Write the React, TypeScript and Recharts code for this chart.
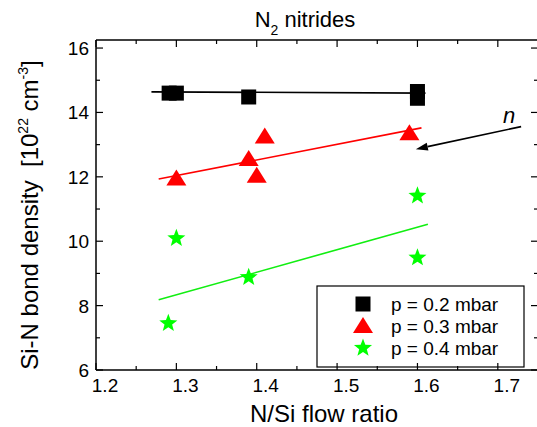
import React from "react";
import {
  ComposedChart,
  XAxis,
  YAxis,
  Scatter,
  Line,
  ReferenceLine,
  Customized
} from "recharts";

// measured points, N/Si flow ratio vs Si-N bond density
const lowP = [
  { x: 1.291, y: 14.6 },
  { x: 1.3, y: 14.6 },
  { x: 1.39, y: 14.48 },
  { x: 1.6, y: 14.65 },
  { x: 1.6, y: 14.44 }
];
const midP = [
  { x: 1.3, y: 11.95 },
  { x: 1.39, y: 12.55 },
  { x: 1.4, y: 12.03 },
  { x: 1.41, y: 13.25 },
  { x: 1.59, y: 13.35 }
];
const highP = [
  { x: 1.3, y: 10.09 },
  { x: 1.39, y: 8.88 },
  { x: 1.29, y: 7.45 },
  { x: 1.6, y: 11.41 },
  { x: 1.6, y: 9.49 }
];

// linear fits
const lowFit = [
  { x: 1.269, y: 14.64 },
  { x: 1.61, y: 14.6 }
];
const midFit = [
  { x: 1.278, y: 11.93 },
  { x: 1.605, y: 13.52 }
];
const highFit = [
  { x: 1.278, y: 8.18 },
  { x: 1.613, y: 10.53 }
];

const arrow = [
  { x: 1.729, y: 13.56 },
  { x: 1.598, y: 12.86 }
];

const xMajor = [1.2, 1.3, 1.4, 1.5, 1.6, 1.7];
const xMinor = [1.25, 1.35, 1.45, 1.55, 1.65, 1.75];
const yMajor = [6, 8, 10, 12, 14, 16];
const yMinor = [7, 9, 11, 13, 15];

const legendItems = ["p = 0.2 mbar", "p = 0.3 mbar", "p = 0.4 mbar"];

const FONT = "'Liberation Sans', Arial, sans-serif";
const GREEN = "#00ff00";
const RED = "#ff0000";
const MAJOR = 7;
const MINOR = 4;
const MARGIN = 6;

const xTicks = [...xMajor, ...xMinor].sort((a, b) => a - b);
const yTicks = [...yMajor, ...yMinor].sort((a, b) => a - b);

const isMajor = (list: number[], v: number) => list.some((m) => Math.abs(m - v) < 1e-6);

function BottomTick(props: any) {
  const { x, y, payload } = props;
  const ay = y - MARGIN;
  const major = isMajor(xMajor, payload.value);
  return (
    <g>
      <line x1={x} x2={x} y1={ay} y2={ay - (major ? MAJOR : MINOR)} stroke="#000" strokeWidth={1.2} />
      {major && (
        <text x={x + 9} y={ay + 22} textAnchor="middle" fontSize={19} fontFamily={FONT} fill="#000">
          {payload.value.toFixed(1)}
        </text>
      )}
    </g>
  );
}

function TopTick(props: any) {
  const { x, y, payload } = props;
  const ay = y + MARGIN;
  const major = isMajor(xMajor, payload.value);
  return <line x1={x} x2={x} y1={ay} y2={ay + (major ? MAJOR : MINOR)} stroke="#000" strokeWidth={1.2} />;
}

function LeftTick(props: any) {
  const { x, y, payload } = props;
  const ax = x + MARGIN;
  const major = isMajor(yMajor, payload.value);
  return (
    <g>
      <line x1={ax} x2={ax + (major ? MAJOR : MINOR)} y1={y} y2={y} stroke="#000" strokeWidth={1.2} />
      {major && (
        <text x={ax - 7} y={y + 7} textAnchor="end" fontSize={19} fontFamily={FONT} fill="#000">
          {payload.value}
        </text>
      )}
    </g>
  );
}

function RightTick(props: any) {
  const { x, y, payload } = props;
  const ax = x - MARGIN;
  const major = isMajor(yMajor, payload.value);
  return <line x1={ax} x2={ax - (major ? MAJOR : MINOR)} y1={y} y2={y} stroke="#000" strokeWidth={1.2} />;
}

function Square({ cx, cy }: any) {
  return <rect x={cx - 7.5} y={cy - 7.5} width={15} height={15} fill="#000" />;
}

function Triangle({ cx, cy }: any) {
  return <polygon points={`${cx},${cy - 9} ${cx - 10},${cy + 7} ${cx + 10},${cy + 7}`} fill={RED} />;
}

function starPath(cx: number, cy: number, ro: number, ri: number) {
  const pts: string[] = [];
  for (let i = 0; i < 10; i++) {
    const r = i % 2 === 0 ? ro : ri;
    const a = -Math.PI / 2 + (i * Math.PI) / 5;
    pts.push(`${cx + r * Math.cos(a)},${cy + r * Math.sin(a)}`);
  }
  return pts.join(" ");
}

function Star({ cx, cy }: any) {
  return <polygon points={starPath(cx, cy, 9.5, 4)} fill={GREEN} />;
}

function Arrow(props: any) {
  const { x1, y1, x2, y2 } = props;
  const dx = x2 - x1;
  const dy = y2 - y1;
  const len = Math.sqrt(dx * dx + dy * dy);
  const ux = dx / len;
  const uy = dy / len;
  const bx = x2 - ux * 12;
  const by = y2 - uy * 12;
  return (
    <g>
      <line x1={x1} y1={y1} x2={bx} y2={by} stroke="#000" strokeWidth={1.6} />
      <polygon
        points={`${x2},${y2} ${bx - uy * 4},${by + ux * 4} ${bx + uy * 4},${by - ux * 4}`}
        fill="#000"
      />
      <text x={x1 - 12} y={y1 - 4} textAnchor="middle" fontSize={22} fontStyle="italic" fontFamily={FONT}>
        n
      </text>
    </g>
  );
}

function Decorations() {
  const rows = [304, 326, 348];
  const marks = [
    <rect key="s" x={355.5} y={rows[0] - 7.5} width={15} height={15} fill="#000" />,
    <polygon key="t" points={`363,${rows[1] - 9} 353,${rows[1] + 7} 373,${rows[1] + 7}`} fill={RED} />,
    <polygon key="p" points={starPath(363, rows[2], 9.5, 4)} fill={GREEN} />
  ];
  return (
    <g fontFamily={FONT} fill="#000">
      <text x={305} y={27} textAnchor="middle" fontSize={22}>
        N<tspan dy={8} fontSize={14}>2</tspan>
        <tspan dy={-8}> nitrides</tspan>
      </text>
      <text x={324} y={422} textAnchor="middle" fontSize={24}>
        N/Si flow ratio
      </text>
      <text x={38} y={215} textAnchor="middle" fontSize={24} transform="rotate(-90 38 215)">
        {"Si-N bond density\u00a0\u00a0[10"}
        <tspan dy={-10} fontSize={14}>22</tspan>
        <tspan dy={10}>{"\u00a0cm"}</tspan>
        <tspan dy={-10} fontSize={14}>-3</tspan>
        <tspan dy={10}>]</tspan>
      </text>
      <rect x={317} y={286} width={207} height={81} fill="#fff" stroke="#000" strokeWidth={1.2} />
      {marks}
      {legendItems.map((t, i) => (
        <text key={t} x={391} y={rows[i] + 7} fontSize={19}>
          {t}
        </text>
      ))}
    </g>
  );
}

export default function App() {
  return (
    <div
      style={{
        position: "fixed",
        left: 0,
        top: 0,
        width: 537,
        height: 427,
        overflow: "hidden",
        background: "#fff"
      }}
    >
      <ComposedChart width={540} height={427} margin={{ top: 39, right: 1, left: 36, bottom: 0 }}>
        <XAxis
          xAxisId="b"
          dataKey="x"
          type="number"
          domain={[1.2, 1.75]}
          ticks={xTicks}
          interval={0}
          tickSize={0}
          tickMargin={MARGIN}
          tickLine={false}
          tick={(p: any) => <BottomTick {...p} />}
          axisLine={{ stroke: "#000", strokeWidth: 1.5 }}
          height={57}
          allowDataOverflow
        />
        <XAxis
          xAxisId="t"
          orientation="top"
          dataKey="x"
          type="number"
          domain={[1.2, 1.75]}
          ticks={xTicks}
          interval={0}
          tickSize={0}
          tickMargin={MARGIN}
          tickLine={false}
          tick={(p: any) => <TopTick {...p} />}
          axisLine={{ stroke: "#000", strokeWidth: 1.5 }}
          height={1}
          allowDataOverflow
        />
        <YAxis
          yAxisId="l"
          type="number"
          domain={[6, 16.25]}
          ticks={yTicks}
          interval={0}
          tickSize={0}
          tickMargin={MARGIN}
          tickLine={false}
          tick={(p: any) => <LeftTick {...p} />}
          axisLine={{ stroke: "#000", strokeWidth: 1.5 }}
          width={60}
          allowDataOverflow
        />
        <YAxis
          yAxisId="r"
          orientation="right"
          type="number"
          domain={[6, 16.25]}
          ticks={yTicks}
          interval={0}
          tickSize={0}
          tickMargin={MARGIN}
          tickLine={false}
          tick={(p: any) => <RightTick {...p} />}
          axisLine={{ stroke: "#000", strokeWidth: 1.5 }}
          width={1}
          allowDataOverflow
        />
        <Line xAxisId="b" yAxisId="l" data={lowFit} dataKey="y" stroke="#000" strokeWidth={1.6} dot={false} isAnimationActive={false} />
        <Line xAxisId="b" yAxisId="l" data={midFit} dataKey="y" stroke={RED} strokeWidth={1.6} dot={false} isAnimationActive={false} />
        <Line xAxisId="b" yAxisId="l" data={highFit} dataKey="y" stroke="#11ee11" strokeWidth={1.6} dot={false} isAnimationActive={false} />
        <Scatter xAxisId="b" yAxisId="l" data={lowP} dataKey="y" shape={<Square />} isAnimationActive={false} />
        <Scatter xAxisId="b" yAxisId="l" data={midP} dataKey="y" shape={<Triangle />} isAnimationActive={false} />
        <Scatter xAxisId="b" yAxisId="l" data={highP} dataKey="y" shape={<Star />} isAnimationActive={false} />
        <ReferenceLine xAxisId="b" yAxisId="l" segment={arrow} shape={(p: any) => <Arrow {...p} />} />
        <Customized component={<Decorations />} />
      </ComposedChart>
    </div>
  );
}
